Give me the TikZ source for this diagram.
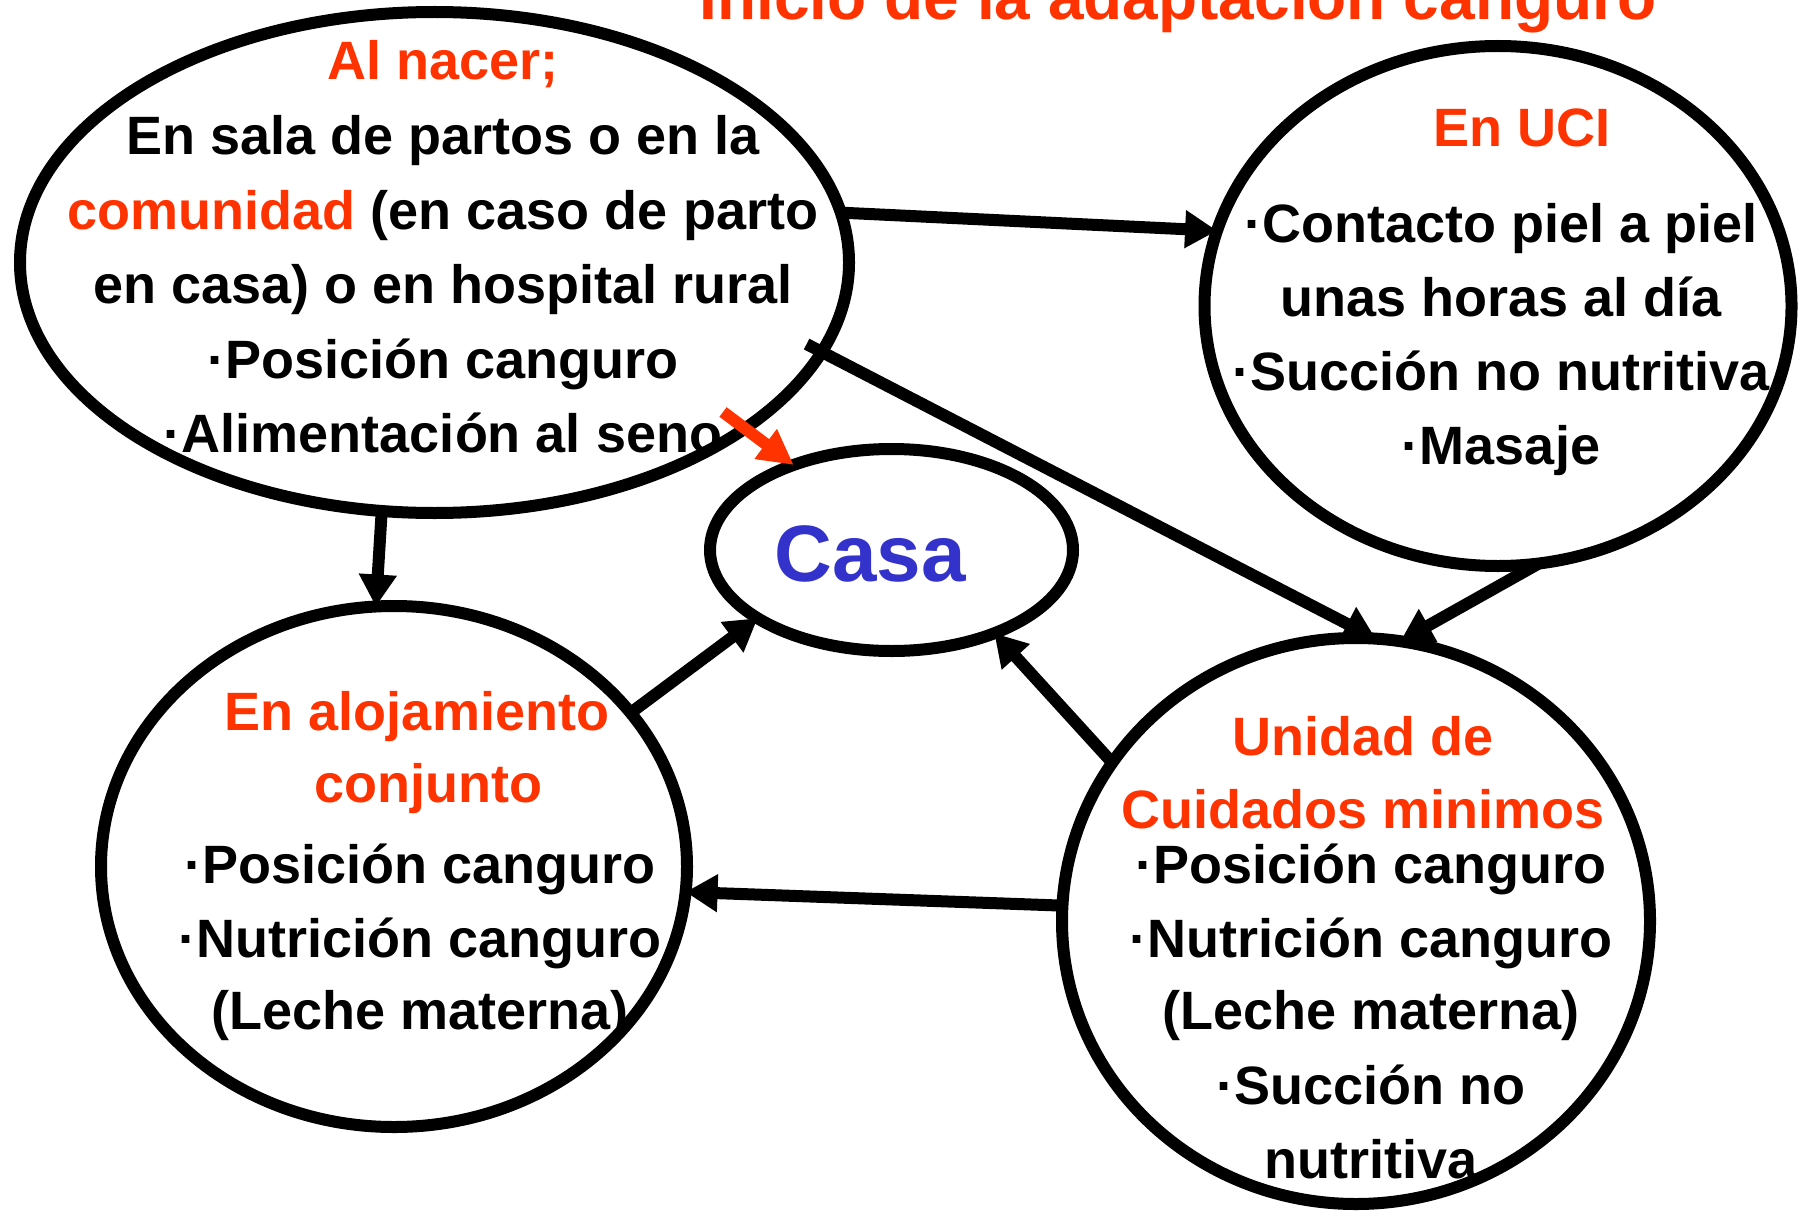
\documentclass[tikz,border=0pt]{standalone}
\usepackage{fontspec}
\setmainfont{Liberation Sans}
\usetikzlibrary{shapes.geometric,arrows.meta}
\definecolor{hred}{RGB}{255,51,0}
\definecolor{hblue}{RGB}{51,51,204}
\begin{document}
\begin{tikzpicture}[x=1pt,y=-1pt,
  ell/.style={ellipse, draw, line width=12pt, inner sep=0pt, outer sep=0pt},
  conn/.style={line width=12pt, -{Triangle[length=32pt,width=36pt]}},
  txt/.style={anchor=base, inner sep=0pt, font=\fontsize{54}{66}\selectfont\bfseries},
  rtxt/.style={txt, text=hred}]
\clip (0,0) rectangle (1803,1217);
\fill[white] (0,0) rectangle (1803,1217);

% title
\node[anchor=base, inner sep=0pt, text=hred, font=\fontsize{64}{70}\selectfont\bfseries] (title) at (1178,20) {Inicio de la adaptación canguro};

% ellipses
\node[ell, minimum width=829pt, minimum height=501pt] (nacer) at (434.5,262.5) {};
\node[ell, minimum width=587pt, minimum height=520pt] (uci) at (1498,306) {};
\node[ell, minimum width=363pt, minimum height=202pt] (casa) at (891.5,550) {};
\node[ell, minimum width=586pt, minimum height=521pt] (aloj) at (394,866.5) {};
\node[ell, minimum width=588pt, minimum height=566pt] (unidad) at (1356,921) {};

% texts: Al nacer
\node[rtxt] (n1) at (443,80) {Al nacer;};
\node[txt] (n2) at (443,155) {En sala de partos o en la};
\node[txt] (n3) at (443,229) {\textcolor{hred}{comunidad} (en caso de parto};
\node[txt] (n4) at (443,303) {en casa) o en hospital rural};
\node[txt] (n5) at (443,378) {·Posición canguro};
\node[txt] (n6) at (443,452) {·Alimentación al seno};

% En UCI
\node[rtxt] (u1) at (1522,147) {En UCI};
\node[txt] (u2) at (1501,242) {·Contacto piel a piel};
\node[txt] (u3) at (1501,316) {unas horas al día};
\node[txt] (u4) at (1501,390) {·Succión no nutritiva};
\node[txt] (u5) at (1501,464) {·Masaje};

% Casa
\node[anchor=base, inner sep=0pt, text=hblue, font=\fontsize{80}{90}\selectfont\bfseries] (c1) at (870,581) {Casa};

% Alojamiento conjunto
\node[rtxt] (a1) at (417,730) {En alojamiento};
\node[rtxt] (a2) at (428,802) {conjunto};
\node[txt] (a3) at (420,883) {·Posición canguro};
\node[txt] (a4) at (420,957) {·Nutrición canguro};
\node[txt] (a5) at (420,1029) {(Leche materna)};

% Unidad de cuidados minimos
\node[rtxt] (d1) at (1363,755) {Unidad de};
\node[rtxt] (d2) at (1363,828) {Cuidados minimos};
\node[txt] (d3) at (1371,883) {·Posición canguro};
\node[txt] (d4) at (1371,957) {·Nutrición canguro};
\node[txt] (d5) at (1371,1029) {(Leche materna)};
\node[txt] (d6) at (1371,1104) {·Succión no};
\node[txt] (d7) at (1371,1178) {nutritiva};

% connectors
\draw[conn] (nacer.7.8) -- (uci.165.6);
\draw[conn, shorten <=-17pt] (nacer.-13) -- (unidad.86.8);
\draw[conn] (uci.-81.2) -- (unidad.81.3);
\draw[conn] (nacer.-102.2) -- (aloj.94.7);
\draw[conn] (aloj.33.2) -- (casa.207.6);
\draw[conn] (unidad.147.5) -- (casa.-39.1);
\draw[conn] (unidad.177.5) -- (aloj.-5.1);

% red pointer
\coordinate (rstart) at (723,412);
\draw[line width=12pt, hred, -{Triangle[length=35pt,width=35pt]}] (rstart) -- (casa.139.5);
\end{tikzpicture}
\end{document}
